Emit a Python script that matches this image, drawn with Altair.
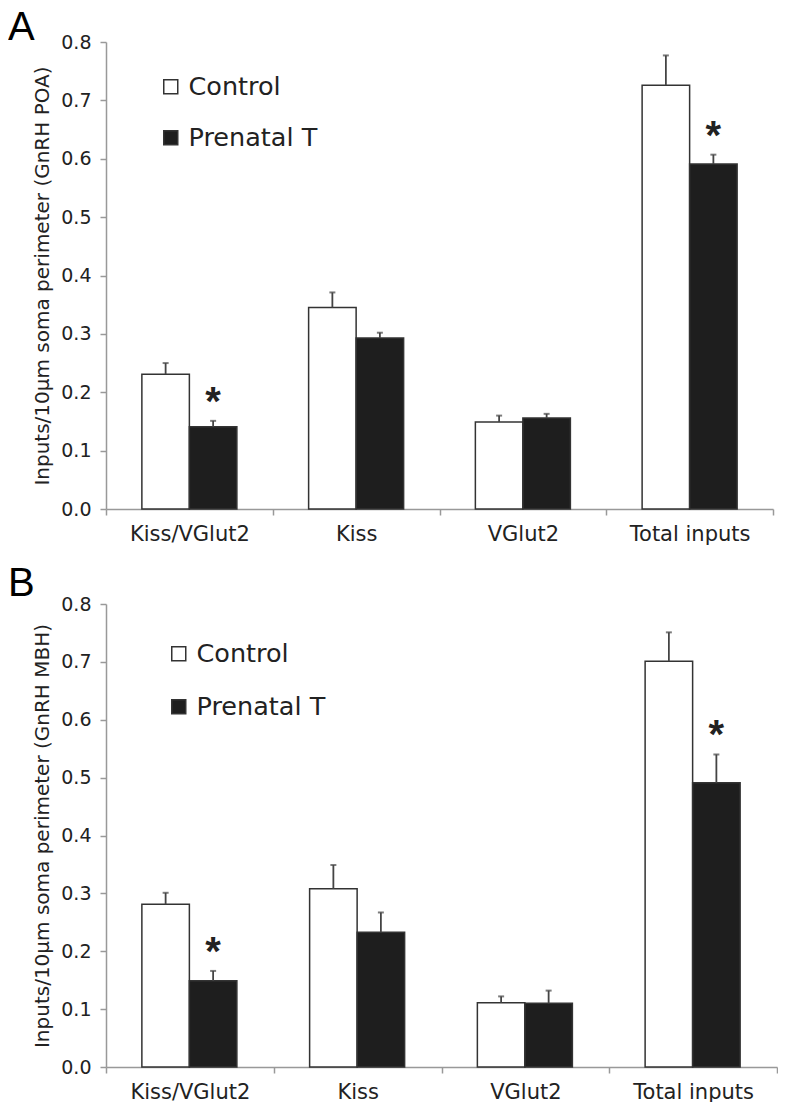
import altair as alt
import pandas as pd

categories = ["Kiss/VGlut2", "Kiss", "VGlut2", "Total inputs"]
groups = ["Control", "Prenatal T"]
y_ticks = [0.0, 0.1, 0.2, 0.3, 0.4, 0.5, 0.6, 0.7, 0.8]

# Panel A: GnRH POA
poa_control = [0.231, 0.345, 0.149, 0.726]
poa_control_err = [0.019, 0.026, 0.011, 0.051]
poa_prenatal = [0.141, 0.293, 0.156, 0.591]
poa_prenatal_err = [0.010, 0.009, 0.007, 0.016]
poa_sig = [True, False, False, True]

# Panel B: GnRH MBH
mbh_control = [0.281, 0.308, 0.111, 0.701]
mbh_control_err = [0.020, 0.041, 0.011, 0.050]
mbh_prenatal = [0.149, 0.233, 0.110, 0.491]
mbh_prenatal_err = [0.017, 0.034, 0.022, 0.049]
mbh_sig = [True, False, False, True]

FONT = "DejaVu Sans"
TXT = "#222222"
AX = "#999999"


def make_frame(ctrl, ctrl_err, pre, pre_err, sig):
    rows = []
    for i, c in enumerate(categories):
        rows.append(dict(cat=c, group=groups[0], value=ctrl[i], err=ctrl_err[i],
                         top=ctrl[i] + ctrl_err[i], sig=False))
        rows.append(dict(cat=c, group=groups[1], value=pre[i], err=pre_err[i],
                         top=pre[i] + pre_err[i], sig=bool(sig[i])))
    return pd.DataFrame(rows)


def panel(letter, ytitle, ctrl, ctrl_err, pre, pre_err, sig, width, height,
          legend_x, legend_y, row_pad, letter_y):
    df = make_frame(ctrl, ctrl_err, pre, pre_err, sig)
    x = alt.X("cat:N", sort=categories,
              scale=alt.Scale(paddingInner=0, paddingOuter=0),
              axis=alt.Axis(title=None, labelAngle=0, labelFont=FONT, labelFontSize=21,
                            labelColor=TXT, tickBand="extent", tickSize=6, tickColor=AX,
                            tickWidth=1.5, domainColor=AX, domainWidth=1.5, labelPadding=8))
    xo = alt.XOffset("group:N", sort=groups,
                     scale=alt.Scale(paddingInner=0, paddingOuter=0.755))
    y = alt.Y("value:Q", scale=alt.Scale(domain=[0, 0.8], nice=False),
              axis=alt.Axis(values=y_ticks, format=".1f", title=ytitle, titleFont=FONT,
                            titleFontSize=20, titleFontWeight="normal", titleColor=TXT,
                            titlePadding=8, labelFont=FONT, labelFontSize=19,
                            labelColor=TXT, labelPadding=9, tickSize=6, tickColor=AX,
                            tickWidth=1.5, domainColor=AX, domainWidth=1.5, grid=False))
    base = alt.Chart(df)
    bars = base.mark_bar(stroke="#333333", strokeWidth=1.5).encode(
        x=x, xOffset=xo, y=y,
        fill=alt.Fill("group:N", sort=groups,
                      scale=alt.Scale(domain=groups, range=["#ffffff", "#1e1e1e"]),
                      legend=alt.Legend(title=None, orient="none", legendX=legend_x,
                                        legendY=legend_y, symbolType="square",
                                        symbolSize=196, symbolStrokeColor="#333333",
                                        symbolStrokeWidth=1.5, labelFont=FONT,
                                        labelFontSize=25.5, labelColor=TXT,
                                        labelOffset=5, rowPadding=row_pad)))
    rules = base.mark_rule(color="#444444", strokeWidth=1.8).encode(
        x=x, xOffset=xo, y="value:Q", y2="top:Q")
    caps = base.mark_tick(color="#444444", thickness=2, size=6).encode(
        x=x, xOffset=xo, y="top:Q")
    stars = base.transform_filter("datum.sig").mark_text(
        text="*", font="Liberation Sans", fontWeight="bold", fontSize=40,
        color=TXT, baseline="alphabetic", dy=-6).encode(x=x, xOffset=xo, y="top:Q")
    lab = alt.Chart(pd.DataFrame({"t": [letter]})).mark_text(
        font="Liberation Sans", fontSize=40, align="left", baseline="top",
        color="#000000").encode(text="t:N", x=alt.value(-98), y=alt.value(letter_y))
    return alt.layer(bars, rules, caps, stars, lab).properties(width=width, height=height)


chart_a = panel("A", "Inputs/10\u00b5m soma perimeter (GnRH POA)", poa_control,
                poa_control_err, poa_prenatal, poa_prenatal_err, poa_sig,
                667, 467, 52, 32, 24, -33.7)
chart_b = panel("B", "Inputs/10\u00b5m soma perimeter (GnRH MBH)", mbh_control,
                mbh_control_err, mbh_prenatal, mbh_prenatal_err, mbh_sig,
                671, 463, 60, 37, 26, -39.7)

chart = alt.vconcat(chart_a, chart_b, spacing=20).resolve_scale(
    fill="independent").resolve_legend(fill="independent").properties(
    padding=0).configure_view(stroke=None)

chart.save("out.html", embed_options={"renderer": "svg", "actions": False})
